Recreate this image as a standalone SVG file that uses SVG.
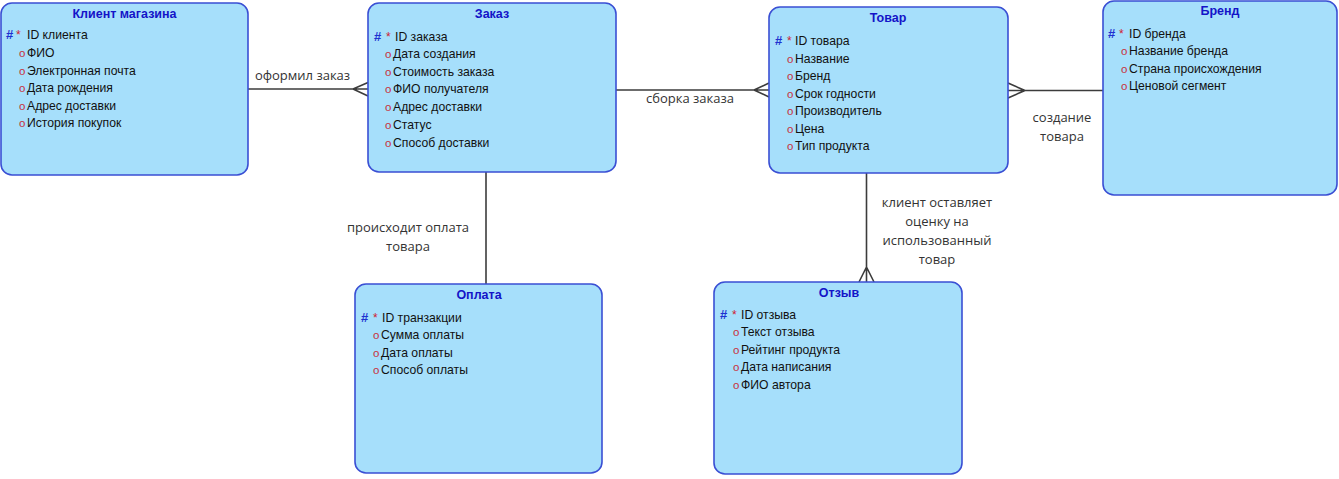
<svg xmlns="http://www.w3.org/2000/svg" width="1339" height="479" viewBox="0 0 1339 479">
<style>
.box{fill:#a6dffb;stroke:#3a4fd4;stroke-width:1.6}
.title{font-family:"Liberation Sans",Arial,sans-serif;font-size:12.5px;font-weight:bold;fill:#1414c8;text-anchor:middle}
.attr{font-family:"Liberation Sans",Arial,sans-serif;font-size:12.2px;fill:#111}
.hash{font-family:"Liberation Sans",Arial,sans-serif;font-size:13px;font-weight:bold;fill:#2030d0}
.star{font-family:"Liberation Sans",Arial,sans-serif;font-size:12px;fill:#d02030}
.o{font-family:"Liberation Sans",Arial,sans-serif;font-size:11.5px;fill:#c83040}
.conn{stroke:#3c3c3c;stroke-width:1.6;fill:none}
.lbl{font-family:"Open Sans","Noto Sans",sans-serif;font-size:13px;fill:#333;text-anchor:middle}
</style>
<rect width="1339" height="479" fill="#ffffff"/>
<g id="connectors">
  <path class="conn" d="M248 89H368M353 89L368 82.5M353 89L368 96"/>
  <text class="lbl" x="302.5" y="79.5">оформил заказ</text>
  <path class="conn" d="M616 90H769M754 90L769 83M754 90L769 97"/>
  <text class="lbl" x="690" y="103">сборка заказа</text>
  <path class="conn" d="M1008 90.5H1103M1025 90.5L1008 83M1025 90.5L1008 98"/>
  <text class="lbl" x="1062" y="122">создание</text>
  <text class="lbl" x="1062" y="141">товара</text>
  <path class="conn" d="M486 172V284"/>
  <text class="lbl" x="408" y="232">происходит оплата</text>
  <text class="lbl" x="408" y="251">товара</text>
  <path class="conn" d="M866.5 173V282M866.5 267L859 282M866.5 267L874 282"/>
  <text class="lbl" x="937" y="207">клиент оставляет</text>
  <text class="lbl" x="937" y="226">оценку на</text>
  <text class="lbl" x="937" y="245">использованный</text>
  <text class="lbl" x="937" y="264">товар</text>
</g>
<g id="klient">
  <rect class="box" x="1" y="3" width="247" height="172" rx="11"/>
  <text class="title" x="124.5" y="17.5">Клиент магазина</text>
  <text class="hash" x="6" y="38.5">#</text><text class="star" x="16" y="38.5">*</text><text class="attr" x="27" y="38.5">ID клиента</text>
  <text class="o" x="19" y="57">o</text><text class="attr" x="27" y="57">ФИО</text>
  <text class="o" x="19" y="75">o</text><text class="attr" x="27" y="75">Электронная почта</text>
  <text class="o" x="19" y="92">o</text><text class="attr" x="27" y="92">Дата рождения</text>
  <text class="o" x="19" y="110">o</text><text class="attr" x="27" y="110">Адрес доставки</text>
  <text class="o" x="19" y="127">o</text><text class="attr" x="27" y="127">История покупок</text>
</g>
<g id="zakaz">
  <rect class="box" x="368" y="3" width="248" height="169" rx="11"/>
  <text class="title" x="492" y="17.5">Заказ</text>
  <text class="hash" x="374" y="40.5">#</text><text class="star" x="386" y="40.5">*</text><text class="attr" x="395" y="40.5">ID заказа</text>
  <text class="o" x="385" y="58">o</text><text class="attr" x="393" y="58">Дата создания</text>
  <text class="o" x="385" y="76">o</text><text class="attr" x="393" y="76">Стоимость заказа</text>
  <text class="o" x="385" y="93">o</text><text class="attr" x="393" y="93">ФИО получателя</text>
  <text class="o" x="385" y="111">o</text><text class="attr" x="393" y="111">Адрес доставки</text>
  <text class="o" x="385" y="129">o</text><text class="attr" x="393" y="129">Статус</text>
  <text class="o" x="385" y="147">o</text><text class="attr" x="393" y="147">Способ доставки</text>
</g>
<g id="tovar">
  <rect class="box" x="769" y="7" width="239" height="166" rx="11"/>
  <text class="title" x="888" y="21.5">Товар</text>
  <text class="hash" x="775" y="45">#</text><text class="star" x="787" y="45">*</text><text class="attr" x="795" y="45">ID товара</text>
  <text class="o" x="787" y="63">o</text><text class="attr" x="795" y="63">Название</text>
  <text class="o" x="787" y="80">o</text><text class="attr" x="795" y="80">Бренд</text>
  <text class="o" x="787" y="97.5">o</text><text class="attr" x="795" y="97.5">Срок годности</text>
  <text class="o" x="787" y="115">o</text><text class="attr" x="795" y="115">Производитель</text>
  <text class="o" x="787" y="132.5">o</text><text class="attr" x="795" y="132.5">Цена</text>
  <text class="o" x="787" y="150">o</text><text class="attr" x="795" y="150">Тип продукта</text>
</g>
<g id="brend">
  <rect class="box" x="1103" y="1" width="234" height="194" rx="11"/>
  <text class="title" x="1220" y="14.5">Бренд</text>
  <text class="hash" x="1108" y="37.5">#</text><text class="star" x="1119" y="37.5">*</text><text class="attr" x="1129" y="37.5">ID бренда</text>
  <text class="o" x="1121" y="55">o</text><text class="attr" x="1129" y="55">Название бренда</text>
  <text class="o" x="1121" y="72.5">o</text><text class="attr" x="1129" y="72.5">Страна происхождения</text>
  <text class="o" x="1121" y="90">o</text><text class="attr" x="1129" y="90">Ценовой сегмент</text>
</g>
<g id="oplata">
  <rect class="box" x="355" y="284" width="247" height="189" rx="11"/>
  <text class="title" x="479" y="298.5">Оплата</text>
  <text class="hash" x="361" y="321.5">#</text><text class="star" x="373" y="321.5">*</text><text class="attr" x="382" y="321.5">ID транзакции</text>
  <text class="o" x="373" y="339">o</text><text class="attr" x="381" y="339">Сумма оплаты</text>
  <text class="o" x="373" y="357">o</text><text class="attr" x="381" y="357">Дата оплаты</text>
  <text class="o" x="373" y="374">o</text><text class="attr" x="381" y="374">Способ оплаты</text>
</g>
<g id="otzyv">
  <rect class="box" x="714" y="282" width="248" height="192" rx="11"/>
  <text class="title" x="839" y="296.5">Отзыв</text>
  <text class="hash" x="720" y="318.5">#</text><text class="star" x="732" y="318.5">*</text><text class="attr" x="741" y="318.5">ID отзыва</text>
  <text class="o" x="733" y="336">o</text><text class="attr" x="741" y="336">Текст отзыва</text>
  <text class="o" x="733" y="354">o</text><text class="attr" x="741" y="354">Рейтинг продукта</text>
  <text class="o" x="733" y="371">o</text><text class="attr" x="741" y="371">Дата написания</text>
  <text class="o" x="733" y="389">o</text><text class="attr" x="741" y="389">ФИО автора</text>
</g>
</svg>
